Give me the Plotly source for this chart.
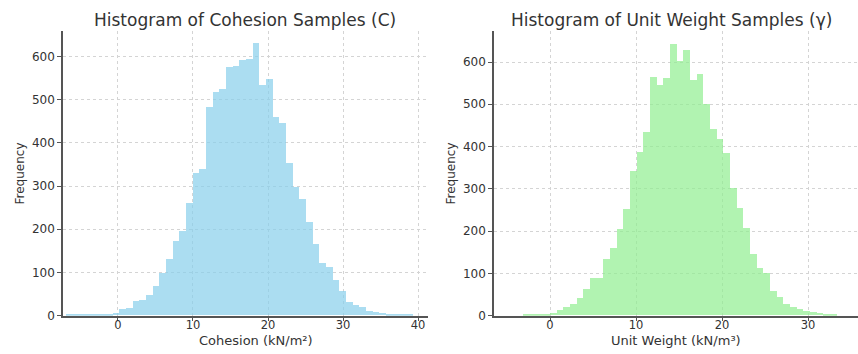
import plotly.graph_objects as go

# ---------------- data ----------------
cohesion_bin_start = -6.93
cohesion_bin_width = 0.889
cohesion_counts = [1, 1, 1, 2, 2, 2, 3, 6,
                   14, 16, 33, 36, 46, 68, 97, 131, 171, 194,
                   260, 330, 338, 482, 516, 523, 575, 578, 590, 594,
                   630, 533, 546, 459, 444, 353, 298, 270, 217, 165,
                   121, 111, 82, 56, 30, 23, 18, 11, 8, 6, 4, 3, 2, 1]

unit_bin_start = -3.10
unit_bin_width = 0.7753
unit_counts = [1, 1, 3, 3, 5,
               12, 20, 26, 42, 63, 88, 87, 132, 159, 204,
               252, 341, 387, 434, 563, 544, 561, 641, 602, 627,
               557, 571, 500, 440, 417, 385, 300, 254, 207, 145,
               111, 101, 57, 43, 26, 20, 14, 10, 7, 5, 2, 1]

x_ticks_left = [0, 10, 20, 30, 40]
x_ticks_right = [0, 10, 20, 30]
y_ticks = [0, 100, 200, 300, 400, 500, 600]

titles = ["Histogram of Cohesion Samples (C)", "Histogram of Unit Weight Samples (\u03b3)"]
x_titles = ["Cohesion (kN/m\u00b2)", "Unit Weight (kN/m\u00b3)"]
y_title = "Frequency"

# ---------------- figure ----------------
W, H = 858, 354
def px(x):
    return x / W
def py(y):
    return 1 - y / H

def centers(start, width, counts):
    return [start + width * (i + 0.5) for i in range(len(counts))]

fig = go.Figure()
fig.add_trace(go.Bar(
    x=centers(cohesion_bin_start, cohesion_bin_width, cohesion_counts),
    y=cohesion_counts, width=cohesion_bin_width,
    marker=dict(color="skyblue", opacity=0.7, line=dict(width=0)),
    xaxis="x", yaxis="y", showlegend=False))
fig.add_trace(go.Bar(
    x=centers(unit_bin_start, unit_bin_width, unit_counts),
    y=unit_counts, width=unit_bin_width,
    marker=dict(color="lightgreen", opacity=0.7, line=dict(width=0)),
    xaxis="x2", yaxis="y2", showlegend=False))

font = "DejaVu Sans, Verdana, sans-serif"
txt = "#333333"
axis_common = dict(
    showgrid=True, gridcolor="#d4d4d4", griddash="dot", gridwidth=1,
    showline=True, linecolor="#555555", linewidth=1.6,
    ticks="outside", ticklen=4, tickcolor="#555555", tickwidth=1,
    zeroline=False,
)
yfont = dict(family=font, size=12, color=txt)
xfont = dict(family=font, size=11.5, color=txt)

fig.update_layout(
    width=W, height=H,
    margin=dict(l=0, r=0, t=0, b=0),
    paper_bgcolor="white", plot_bgcolor="white",
    bargap=0, barmode="overlay",
    xaxis=dict(domain=[px(63), px(428)], range=[-7.33, 41.33],
               tickvals=x_ticks_left, anchor="y", tickfont=xfont,
               ticklabelstandoff=-6, **axis_common),
    yaxis=dict(domain=[py(322), py(32)], range=[0, 658],
               tickvals=y_ticks, anchor="x", tickfont=yfont, **axis_common),
    xaxis2=dict(domain=[px(494), 1.0], range=[-6.51, 35.8],
                tickvals=x_ticks_right, anchor="y2", tickfont=xfont,
                ticklabelstandoff=-6, **axis_common),
    yaxis2=dict(domain=[py(322), py(32)], range=[0, 672.5],
                tickvals=y_ticks, anchor="x2", tickfont=yfont, **axis_common),
)

ann = []
ann.append(dict(text=titles[0], x=px(245), y=py(20), font=dict(family=font, size=17, color=txt)))
ann.append(dict(text=titles[1], x=px(671), y=py(20), font=dict(family=font, size=17, color=txt)))
ann.append(dict(text=x_titles[0], x=px(256), y=py(347.5), font=dict(family=font, size=13, color=txt)))
ann.append(dict(text=x_titles[1], x=px(676), y=py(347.5), font=dict(family=font, size=13, color=txt)))
ann.append(dict(text=y_title, x=px(19), y=py(177), textangle=-90, font=dict(family=font, size=12, color=txt)))
ann.append(dict(text=y_title, x=px(450), y=py(177), textangle=-90, font=dict(family=font, size=12, color=txt)))
for a in ann:
    a.update(xref="paper", yref="paper", showarrow=False, xanchor="center", yanchor="middle", borderpad=0)
fig.update_layout(annotations=ann)

fig.write_html("out.html")
